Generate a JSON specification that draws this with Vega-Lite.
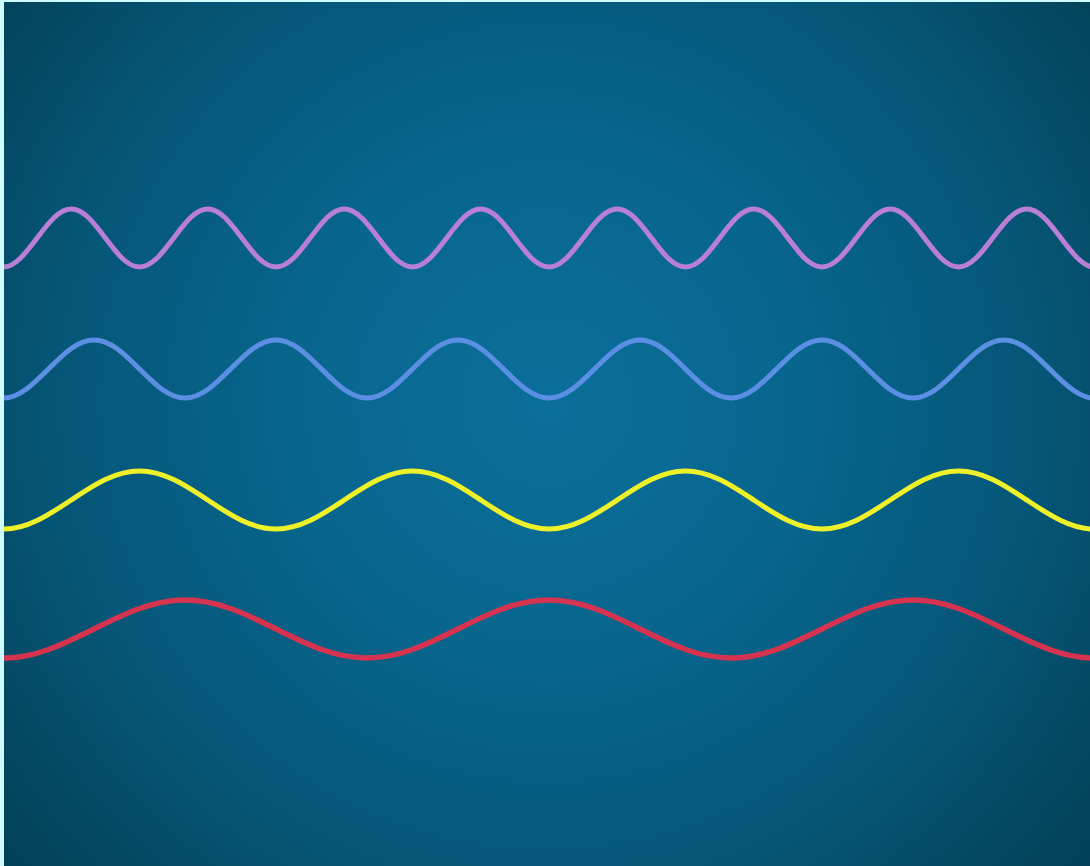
{
  "$schema": "https://vega.github.io/schema/vega-lite/v6.json",
  "width": 1090,
  "height": 866,
  "autosize": {"type": "fit", "contains": "padding"},
  "padding": {"left": 4, "top": 2, "right": 0, "bottom": 0},
  "background": "#cffcff",
  "config": {"view": {"stroke": null}},
  "datasets": {
    "purple": [
      {"x":-14.06,"y":258.5},
      {"x":3,"y":267},{"x":20.06,"y":258.5},{"x":37.13,"y":238},{"x":54.19,"y":217.5},{"x":71.25,"y":209},{"x":88.31,"y":217.5},{"x":105.38,"y":238},{"x":122.44,"y":258.5},
      {"x":139.5,"y":267},{"x":156.56,"y":258.5},{"x":173.63,"y":238},{"x":190.69,"y":217.5},{"x":207.75,"y":209},{"x":224.81,"y":217.5},{"x":241.88,"y":238},{"x":258.94,"y":258.5},
      {"x":276,"y":267},{"x":293.06,"y":258.5},{"x":310.13,"y":238},{"x":327.19,"y":217.5},{"x":344.25,"y":209},{"x":361.31,"y":217.5},{"x":378.38,"y":238},{"x":395.44,"y":258.5},
      {"x":412.5,"y":267},{"x":429.56,"y":258.5},{"x":446.63,"y":238},{"x":463.69,"y":217.5},{"x":480.75,"y":209},{"x":497.81,"y":217.5},{"x":514.88,"y":238},{"x":531.94,"y":258.5},
      {"x":549,"y":267},{"x":566.06,"y":258.5},{"x":583.13,"y":238},{"x":600.19,"y":217.5},{"x":617.25,"y":209},{"x":634.31,"y":217.5},{"x":651.38,"y":238},{"x":668.44,"y":258.5},
      {"x":685.5,"y":267},{"x":702.56,"y":258.5},{"x":719.63,"y":238},{"x":736.69,"y":217.5},{"x":753.75,"y":209},{"x":770.81,"y":217.5},{"x":787.88,"y":238},{"x":804.94,"y":258.5},
      {"x":822,"y":267},{"x":839.06,"y":258.5},{"x":856.13,"y":238},{"x":873.19,"y":217.5},{"x":890.25,"y":209},{"x":907.31,"y":217.5},{"x":924.38,"y":238},{"x":941.44,"y":258.5},
      {"x":958.5,"y":267},{"x":975.56,"y":258.5},{"x":992.63,"y":238},{"x":1009.69,"y":217.5},{"x":1026.75,"y":209},{"x":1043.81,"y":217.5},{"x":1060.88,"y":238},{"x":1077.94,"y":258.5},
      {"x":1095,"y":267},{"x":1112.06,"y":258.5}
    ],
    "blue": [
      {"x":-19.75,"y":389.5},
      {"x":3,"y":398},{"x":25.75,"y":389.5},{"x":48.5,"y":369},{"x":71.25,"y":348.5},{"x":94,"y":340},{"x":116.75,"y":348.5},{"x":139.5,"y":369},{"x":162.25,"y":389.5},
      {"x":185,"y":398},{"x":207.75,"y":389.5},{"x":230.5,"y":369},{"x":253.25,"y":348.5},{"x":276,"y":340},{"x":298.75,"y":348.5},{"x":321.5,"y":369},{"x":344.25,"y":389.5},
      {"x":367,"y":398},{"x":389.75,"y":389.5},{"x":412.5,"y":369},{"x":435.25,"y":348.5},{"x":458,"y":340},{"x":480.75,"y":348.5},{"x":503.5,"y":369},{"x":526.25,"y":389.5},
      {"x":549,"y":398},{"x":571.75,"y":389.5},{"x":594.5,"y":369},{"x":617.25,"y":348.5},{"x":640,"y":340},{"x":662.75,"y":348.5},{"x":685.5,"y":369},{"x":708.25,"y":389.5},
      {"x":731,"y":398},{"x":753.75,"y":389.5},{"x":776.5,"y":369},{"x":799.25,"y":348.5},{"x":822,"y":340},{"x":844.75,"y":348.5},{"x":867.5,"y":369},{"x":890.25,"y":389.5},
      {"x":913,"y":398},{"x":935.75,"y":389.5},{"x":958.5,"y":369},{"x":981.25,"y":348.5},{"x":1004,"y":340},{"x":1026.75,"y":348.5},{"x":1049.5,"y":369},{"x":1072.25,"y":389.5},
      {"x":1095,"y":398},{"x":1117.75,"y":389.5}
    ],
    "yellow": [
      {"x":-31.13,"y":520.5},
      {"x":3,"y":529},{"x":37.13,"y":520.5},{"x":71.25,"y":500},{"x":105.38,"y":479.5},{"x":139.5,"y":471},{"x":173.63,"y":479.5},{"x":207.75,"y":500},{"x":241.88,"y":520.5},
      {"x":276,"y":529},{"x":310.13,"y":520.5},{"x":344.25,"y":500},{"x":378.38,"y":479.5},{"x":412.5,"y":471},{"x":446.63,"y":479.5},{"x":480.75,"y":500},{"x":514.88,"y":520.5},
      {"x":549,"y":529},{"x":583.13,"y":520.5},{"x":617.25,"y":500},{"x":651.38,"y":479.5},{"x":685.5,"y":471},{"x":719.63,"y":479.5},{"x":753.75,"y":500},{"x":787.88,"y":520.5},
      {"x":822,"y":529},{"x":856.13,"y":520.5},{"x":890.25,"y":500},{"x":924.38,"y":479.5},{"x":958.5,"y":471},{"x":992.63,"y":479.5},{"x":1026.75,"y":500},{"x":1060.88,"y":520.5},
      {"x":1095,"y":529},{"x":1129.13,"y":520.5}
    ],
    "red": [
      {"x":-42.5,"y":649.5},
      {"x":3,"y":658},{"x":48.5,"y":649.5},{"x":94,"y":629},{"x":139.5,"y":608.5},{"x":185,"y":600},{"x":230.5,"y":608.5},{"x":276,"y":629},{"x":321.5,"y":649.5},
      {"x":367,"y":658},{"x":412.5,"y":649.5},{"x":458,"y":629},{"x":503.5,"y":608.5},{"x":549,"y":600},{"x":594.5,"y":608.5},{"x":640,"y":629},{"x":685.5,"y":649.5},
      {"x":731,"y":658},{"x":776.5,"y":649.5},{"x":822,"y":629},{"x":867.5,"y":608.5},{"x":913,"y":600},{"x":958.5,"y":608.5},{"x":1004,"y":629},{"x":1049.5,"y":649.5},
      {"x":1095,"y":658},{"x":1140.5,"y":649.5}
    ]
  },
  "layer": [
    {
      "data": {"values": [{"bg": 1}]},
      "mark": {
        "type": "rect",
        "fill": {
          "gradient": "radial",
          "x1": 0.5, "y1": 0.47, "r1": 0,
          "x2": 0.5, "y2": 0.47, "r2": 0.75,
          "stops": [
            {"offset": 0, "color": "#0b6f9b"},
            {"offset": 0.3, "color": "#08668e"},
            {"offset": 0.6, "color": "#055677"},
            {"offset": 0.8, "color": "#04465f"},
            {"offset": 1, "color": "#03384f"}
          ]
        }
      },
      "encoding": {}
    },
    {
      "data": {"name": "purple"},
      "mark": {"type": "line", "interpolate": "natural", "stroke": "#b97fd6", "strokeWidth": 5, "clip": true},
      "encoding": {
        "x": {"field": "x", "type": "quantitative", "scale": {"domain": [4, 1090], "nice": false, "zero": false}, "axis": null},
        "y": {"field": "y", "type": "quantitative", "scale": {"domain": [2, 866], "nice": false, "zero": false, "reverse": true}, "axis": null}
      }
    },
    {
      "data": {"name": "blue"},
      "mark": {"type": "line", "interpolate": "natural", "stroke": "#5b8fe3", "strokeWidth": 5, "clip": true},
      "encoding": {
        "x": {"field": "x", "type": "quantitative"},
        "y": {"field": "y", "type": "quantitative"}
      }
    },
    {
      "data": {"name": "yellow"},
      "mark": {"type": "line", "interpolate": "natural", "stroke": "#eef02a", "strokeWidth": 5, "clip": true},
      "encoding": {
        "x": {"field": "x", "type": "quantitative"},
        "y": {"field": "y", "type": "quantitative"}
      }
    },
    {
      "data": {"name": "red"},
      "mark": {"type": "line", "interpolate": "natural", "stroke": "#d5334f", "strokeWidth": 5.5, "clip": true},
      "encoding": {
        "x": {"field": "x", "type": "quantitative"},
        "y": {"field": "y", "type": "quantitative"}
      }
    }
  ]
}
